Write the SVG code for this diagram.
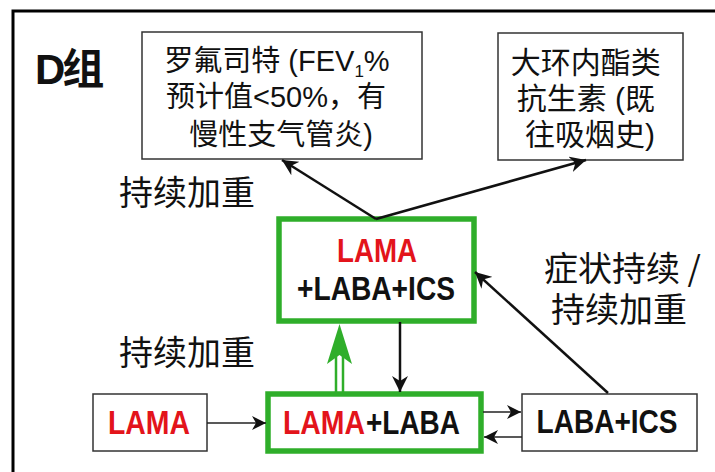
<svg xmlns="http://www.w3.org/2000/svg" width="715" height="472" viewBox="0 0 715 472">
  <style>
    .frame { fill: none; stroke: #000; stroke-width: 3; }
    .box { fill: #fff; stroke: #333; stroke-width: 1.5; }
    .gbox { fill: #fff; stroke: #2fae2a; stroke-width: 5.5; }
    .cjk { font-family: "Liberation Sans", "Noto Sans CJK SC", sans-serif; fill: #111; }
    .lbl { font-family: "Noto Sans CJK SC", sans-serif; font-size: 34px; fill: #111; }
    .bold { font-family: "Liberation Sans", Arial, sans-serif; font-weight: bold; font-size: 34px; fill: #111; }
    .red { fill: #e3141b; }
    .conn { fill: none; stroke: #111; stroke-width: 2.5; }
    .conn-thin { fill: none; stroke: #222; stroke-width: 1.6; }
  </style>
  <defs>
    <marker id="ah" markerUnits="userSpaceOnUse" markerWidth="18" markerHeight="16" refX="16" refY="8" orient="auto">
      <path d="M0,0 L16,8 L0,16 L5,8 z" fill="#111"/>
    </marker>
    <marker id="ahs" markerUnits="userSpaceOnUse" markerWidth="16" markerHeight="14" refX="14" refY="7" orient="auto">
      <path d="M0,0 L14,7 L0,14 L4,7 z" fill="#111"/>
    </marker>
  </defs>

  <rect class="frame" x="13" y="11" width="720" height="480"/>

  <g id="title">
    <text x="35" y="84" font-family="Liberation Sans, 'Noto Sans CJK SC', sans-serif" font-weight="bold" font-size="42" fill="#111" letter-spacing="-3">D组</text>
  </g>

  <g id="node-roflumilast">
    <rect class="box" x="142" y="32" width="280" height="127"/>
    <text class="cjk" font-size="29" text-anchor="middle">
      <tspan x="281" y="71">罗氟司特 (FEV<tspan font-size="17" dy="6">1</tspan><tspan dy="-6">%</tspan></tspan>
      <tspan x="280" y="107">预计值&lt;50%，有</tspan>
      <tspan x="281" y="145">慢性支气管炎)</tspan>
    </text>
  </g>

  <g id="node-macrolide">
    <rect class="box" x="498" y="33" width="185" height="127"/>
    <text class="cjk" font-size="30" text-anchor="middle">
      <tspan x="590" y="73">大环内酯类</tspan>
      <tspan x="590" y="109">抗生素 (既</tspan>
      <tspan x="590" y="145">往吸烟史)</tspan>
    </text>
  </g>

  <g id="node-triple">
    <rect class="gbox" x="279" y="219" width="195" height="102"/>
    <text class="bold red" x="377" y="262" text-anchor="middle" textLength="80" lengthAdjust="spacingAndGlyphs">LAMA</text>
    <text class="bold" x="376" y="300" text-anchor="middle" textLength="158" lengthAdjust="spacingAndGlyphs">+LABA+ICS</text>
  </g>

  <g id="node-lama">
    <rect class="box" x="93" y="394" width="114" height="57"/>
    <text class="bold red" x="149" y="434" text-anchor="middle" textLength="82" lengthAdjust="spacingAndGlyphs">LAMA</text>
  </g>

  <g id="node-lama-laba">
    <rect class="gbox" x="268" y="394" width="213" height="57"/>
    <text class="bold red" x="283" y="434" textLength="82" lengthAdjust="spacingAndGlyphs">LAMA</text>
    <text class="bold" x="366" y="434" textLength="94" lengthAdjust="spacingAndGlyphs">+LABA</text>
  </g>

  <g id="node-laba-ics">
    <rect class="box" x="522" y="394" width="175" height="57"/>
    <text class="bold" x="607" y="433" text-anchor="middle" textLength="141" lengthAdjust="spacingAndGlyphs">LABA+ICS</text>
  </g>

  <g id="labels">
    <text class="lbl" x="119" y="205">持续加重</text>
    <text class="lbl" x="119" y="365">持续加重</text>
    <text class="lbl" x="544" y="281">症状持续 /</text>
    <text class="lbl" x="551" y="322">持续加重</text>
  </g>

  <g id="connectors">
    <line class="conn" x1="376" y1="219" x2="282" y2="160" marker-end="url(#ah)"/>
    <line class="conn" x1="376" y1="219" x2="586" y2="160" marker-end="url(#ah)"/>
    <line class="conn" x1="608" y1="393" x2="475" y2="272" marker-end="url(#ah)"/>
    <line class="conn" x1="400" y1="322" x2="400" y2="392" marker-end="url(#ah)"/>
    <line class="conn-thin" x1="207" y1="423" x2="266" y2="423" marker-end="url(#ahs)"/>
    <line class="conn-thin" x1="483" y1="412" x2="521" y2="412" marker-end="url(#ahs)"/>
    <line class="conn-thin" x1="522" y1="437" x2="484" y2="437" marker-end="url(#ahs)"/>
    <g id="green-double-arrow">
      <line x1="336" y1="392" x2="336" y2="356" stroke="#2fae2a" stroke-width="2.5"/>
      <line x1="343" y1="392" x2="343" y2="356" stroke="#2fae2a" stroke-width="2.5"/>
      <path d="M339.5,324 L352,364 L339.5,355 L327,364 z" fill="#2fae2a"/>
    </g>
  </g>
</svg>
